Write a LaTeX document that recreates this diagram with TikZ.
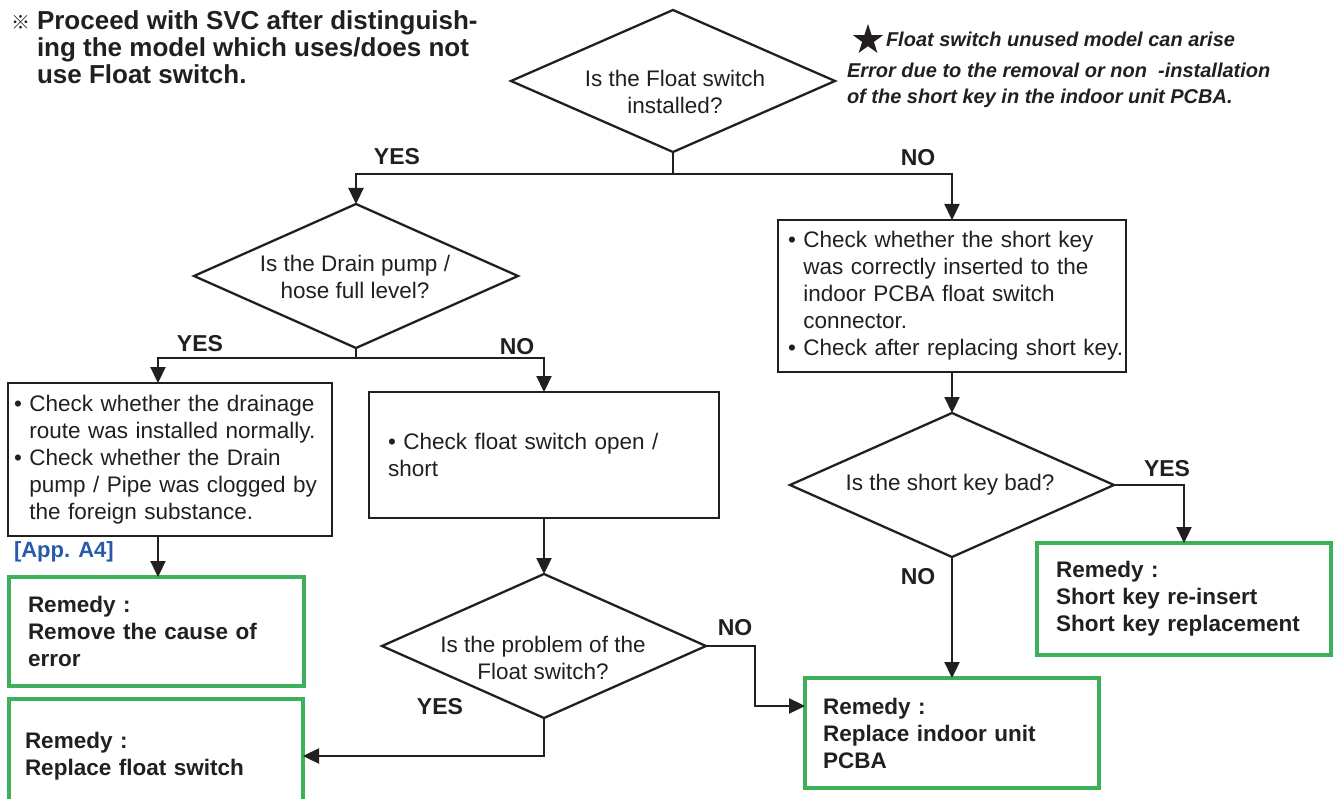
\documentclass[tikz,border=0pt]{standalone}
\usepackage{fontspec}
\setmainfont{Liberation Sans}
\newfontfamily\cjkf{Noto Sans CJK JP}
\usetikzlibrary{shapes.geometric,arrows.meta}
\definecolor{ink}{RGB}{35,31,32}
\definecolor{remgreen}{RGB}{60,176,90}
\definecolor{appblue}{RGB}{40,90,170}
\newcommand{\bulitem}{•\ }
\newcommand{\bulind}{\phantom{•\ }}
\begin{document}
\begin{tikzpicture}[x=1pt,y=-1pt,
  every node/.style={text=ink, inner sep=0pt, outer sep=0pt},
  body/.style={font=\fontsize{22.5}{27}\selectfont},
  bodyb/.style={font=\bfseries\fontsize{22.5}{27}\selectfont},
  dia/.style={diamond, draw=ink, line width=2.3pt, minimum width=324pt, minimum height=144pt},
  dtext/.style={body, align=center},
  chk/.style={rectangle, draw=ink, line width=2.3pt, align=left, body},
  rem/.style={rectangle, draw=remgreen, line width=4pt, align=left, bodyb},
  lbl/.style={font=\bfseries\fontsize{23}{27}\selectfont},
  arr/.style={draw=ink, line width=2.3pt, -{Triangle[length=16pt,width=15pt]}},
  ln/.style={draw=ink, line width=2.3pt}]
\useasboundingbox (0,0) rectangle (1338,799);

% notes
\node[anchor=west, align=left, font=\bfseries\fontsize{26}{27}\selectfont] (note) at (11,47)
  {\makebox[26pt][l]{\cjkf\fontsize{19}{19}\selectfont ※}Proceed with SVC after distinguish-\\
   \hspace*{26pt}ing the model which uses/does not\\
   \hspace*{26pt}use Float switch.};
\node[star, star points=5, star point ratio=2.6, fill=ink, minimum size=32pt] (star) at (868,40) {};
\node[anchor=west, font=\bfseries\itshape\fontsize{20}{26}\selectfont] (fs1) at (886,39)
  {Float switch unused model can arise};
\node[anchor=west, align=left, font=\bfseries\itshape\fontsize{20}{26}\selectfont] (fs2) at (847,85)
  {Error due to the removal or non\ \ -installation\\of the short key in the indoor unit PCBA.};

% decisions
\node[dia, minimum height=142pt] (d1) at (673,81) {};
\node[dtext] (d1t) at (675,91.5) {Is the Float switch\\installed?};
\node[dia] (d2) at (356,276) {};
\node[dtext] (d2t) at (355,276.5) {Is the Drain pump /\\hose full level?};
\node[dia] (d3) at (544,646) {};
\node[dtext] (d3t) at (543,657.5) {Is the problem of the\\Float switch?};
\node[dia] (d4) at (952,485) {};
\node[dtext] (d4t) at (950,485) {Is the short key bad?};

% check boxes
\node[chk, inner xsep=6pt, text width=312pt, minimum height=153pt] (b1) at (170,459.5)
  {\bulitem Check whether the drainage\\
   \mbox{\bulind route was installed normally.}\\
   \bulitem Check whether the Drain\\
   \mbox{\bulind pump / Pipe was clogged by}\\
   \bulind the foreign substance.};
\node[chk, inner xsep=19pt, text width=312pt, minimum height=126pt] (b2) at (544,455)
  {\bulitem Check float switch open /\\short};
\node[chk, inner xsep=10pt, text width=328pt, minimum height=152pt] (b3) at (952,296)
  {\mbox{\bulitem Check whether the short key}\\
   \mbox{\bulind was correctly inserted to the}\\
   \bulind indoor PCBA float switch\\
   \bulind connector.\\
   \mbox{\bulitem Check after replacing short key.}};

% remedy boxes
\node[rem, inner xsep=19pt, text width=257pt, minimum height=109pt] (g1) at (156.5,631.5)
  {Remedy :\\Remove the cause of\\error};
\node[rem, inner xsep=16pt, text width=262pt, minimum height=114pt] (g2) at (156,756)
  {Remedy :\\Replace float switch};
\node[rem, inner xsep=18pt, text width=258pt, minimum height=110pt] (g3) at (952,733)
  {Remedy :\\Replace indoor unit\\PCBA};
\node[rem, inner xsep=19pt, text width=256pt, minimum height=112pt] (g4) at (1184,599)
  {Remedy :\\Short key re-insert\\Short key replacement};

\node[anchor=west, text=appblue, font=\bfseries\fontsize{22}{26}\selectfont] (app) at (14,552) {[App. A4]};

% connectors
\coordinate (j1) at (673,174);
\draw[ln] (d1.south) -- (j1);
\draw[arr] (j1) -| (d2.north);
\draw[arr] (j1) -| (b3.north);
\coordinate (j2) at (356,358);
\draw[ln] (d2.south) -- (j2);
\draw[arr] (j2) -| ([xshift=-12pt]b1.north);
\draw[arr] (j2) -| (b2.north);
\draw[arr] ([xshift=-12pt]b1.south) -- ([xshift=-12pt]b1.south |- g1.north);
\draw[arr] (b2.south) -- (d3.north);
\draw[arr] (d3.east) -- ++(49,0) |- ([yshift=27pt]g3.west);
\draw[arr] (d3.south) |- (g2.east);
\draw[arr] (b3.south) -- (d4.north);
\draw[arr] (d4.east) -| (g4.north);
\draw[arr] (d4.south) -- (g3.north);

% branch labels
\node[lbl] (y1) at (397,157) {YES};
\node[lbl] (n1) at (918,158) {NO};
\node[lbl] (y2) at (200,344) {YES};
\node[lbl] (n2) at (517,347) {NO};
\node[lbl] (n3) at (735,628) {NO};
\node[lbl] (y3) at (440,707) {YES};
\node[lbl] (y4) at (1167,469) {YES};
\node[lbl] (n4) at (918,577) {NO};
\end{tikzpicture}
\end{document}
